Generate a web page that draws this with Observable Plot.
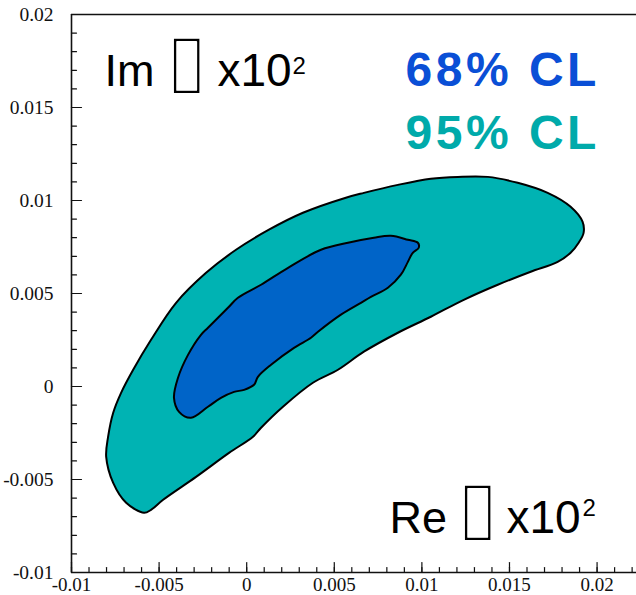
<!DOCTYPE html>
<html><head><meta charset="utf-8">
<script src="https://cdn.jsdelivr.net/npm/d3@7"></script>
<script src="https://cdn.jsdelivr.net/npm/@observablehq/plot@0.6"></script>
<style>html,body{margin:0;padding:0;background:#fff;} svg{display:block;}</style>
</head><body><div id="chart"></div>
<script>
// Contour values in units of 10^-3
const outerRe = [-5.86,-6.88,-7.62,-8.02,-7.91,-7.62,-7.17,-6.48,-5.46,-4.03,-2.32,-0.61,1.27,3.21,5.66,6.69,8.63,10.51,12.05,13.76,15.47,17.18,18.49,19.17,19.23,18.95,18.49,17.75,16.21,14.33,12.39,10.51,8.63,6.69,5.21,3.78,2.07,0.82,0.36,-1.01,-2.89,-4.77,-5.46];
const outerIm = [-6.79,-6.25,-5.18,-3.78,-2.70,-1.41,-0.34,0.90,2.51,4.50,6.11,7.35,8.43,9.34,10.15,10.41,10.84,11.17,11.27,11.27,10.95,10.41,9.66,8.86,8.26,7.73,7.19,6.70,6.17,5.47,4.66,3.75,2.89,1.87,0.90,0.20,-1.09,-2.22,-2.70,-3.57,-4.86,-6.09,-6.63];
const innerRe = [-3.18,-3.86,-4.15,-3.92,-3.35,-2.61,-2.21,-1.07,-0.50,0.82,2.36,4.24,5.78,7.26,8.23,9.20,9.77,9.82,9.48,9.20,8.80,8.06,7.09,6.52,5.38,4.07,3.67,2.70,1.39,0.64,0.42,-0.15,-0.72,-1.47,-2.21];
const innerIm = [-1.68,-1.36,-0.61,0.47,1.70,2.78,3.16,4.23,4.77,5.47,6.38,7.35,7.73,8.00,8.10,7.89,7.73,7.46,7.19,6.70,6.01,5.31,4.82,4.50,3.86,2.94,2.62,2.08,1.17,0.52,0.09,-0.18,-0.29,-0.61,-1.09];

const xTicks = [-0.01,-0.005,0,0.005,0.01,0.015,0.02];
const xTickLabels = ["-0.01","-0.005","0","0.005","0.01","0.015","0.02"];
const yTicks = [-0.01,-0.005,0,0.005,0.01,0.015,0.02];
const yTickLabels = ["-0.01","-0.005","0","0.005","0.01","0.015","0.02"];
const xMinorTicks = d3.range(-10, 23).map(d => d / 1000);
const yMinorTicks = d3.range(-10, 21).map(d => d / 1000);

const imParts = ["Im", "\u25AF", "x10", "2"];
const reParts = ["Re", "\u25AF", "x10", "2"];
const legendLabels = ["68% CL", "95% CL"];

const teal = "#00b3b3", blue = "#0064c8";
const outer = outerRe.map((d, i) => ({re: d / 1000, im: outerIm[i] / 1000}));
const inner = innerRe.map((d, i) => ({re: d / 1000, im: innerIm[i] / 1000}));

const tickShape = {draw(ctx, l) { ctx.moveTo(0, 0); ctx.lineTo(0, -l); }};
const sans = "'Liberation Sans', Arial, 'DejaVu Sans', sans-serif";
const boxFont = "'DejaVu Sans', sans-serif";
const serif = "'Liberation Serif', 'Times New Roman', serif";

// p: pixel offsets from the frame's top-left corner
function label(parts, p) {
  const common = {frameAnchor: "top-left", textAnchor: "start", lineAnchor: "bottom", fill: "#000"};
  return [
    Plot.text([parts[0]], {...common, text: d => d, dx: p.wx, dy: p.wy, fontSize: 45, fontFamily: sans}),
    Plot.text([parts[1]], {...common, text: d => d, textAnchor: "middle", dx: p.bx, dy: p.by, fontSize: 74, fontFamily: boxFont,
      stroke: "#fff", strokeWidth: 1.8, paintOrder: "normal"}),
    Plot.text([parts[2]], {...common, text: d => d, dx: p.xx, dy: p.wy, fontSize: 46, fontFamily: sans}),
    Plot.text([parts[3]], {...common, text: d => d, dx: p.sx, dy: p.sy, fontSize: 24, fontFamily: sans})
  ];
}

const chart = Plot.plot({
  width: 636, height: 595,
  marginLeft: 71, marginRight: 0, marginTop: 14, marginBottom: 23,
  x: {domain: [-0.01, 0.02225], label: null},
  y: {domain: [-0.01, 0.02], label: null},
  style: {background: "#fff"},
  marks: [
    Plot.line(outer, {x: "re", y: "im", curve: "catmull-rom-closed", fill: teal, stroke: "#000", strokeWidth: 2}),
    Plot.line(inner, {x: "re", y: "im", curve: "catmull-rom-closed", fill: blue, stroke: "#000", strokeWidth: 2}),
    Plot.ruleX([-0.01], {stroke: "#111", strokeWidth: 1.6}),
    Plot.ruleY([-0.01, 0.02], {stroke: "#111", strokeWidth: 1.6}),
    Plot.vector(xMinorTicks, {x: d => d, y: -0.01, length: 5, rotate: 0, anchor: "start", shape: tickShape, stroke: "#111", strokeWidth: 1.2}),
    Plot.vector(xTicks, {x: d => d, y: -0.01, length: 10, rotate: 0, anchor: "start", shape: tickShape, stroke: "#111", strokeWidth: 1.2}),
    Plot.vector(yMinorTicks, {x: -0.01, y: d => d, length: 5, rotate: 90, anchor: "start", shape: tickShape, stroke: "#111", strokeWidth: 1.2}),
    Plot.vector(yTicks, {x: -0.01, y: d => d, length: 10, rotate: 90, anchor: "start", shape: tickShape, stroke: "#111", strokeWidth: 1.2}),
    Plot.axisX({ticks: xTicks, tickFormat: d => xTickLabels[xTicks.indexOf(d)], tickSize: 0, tickPadding: 5, fontSize: 19, fontFamily: serif, fill: "#111", label: null}),
    Plot.axisY({ticks: yTicks, tickFormat: d => yTickLabels[yTicks.indexOf(d)], tickSize: 0, tickPadding: 18, fontSize: 19.5, fontFamily: serif, fill: "#111", label: null}),
    ...label(imParts, {wx: 33, wy: 71, bx: 115, by: 70, xx: 146, sx: 221, sy: 59}),
    ...label(reParts, {wx: 318, wy: 518, bx: 406, by: 517, xx: 435, sx: 511, sy: 501}),
    Plot.text([legendLabels[0]], {text: d => d, frameAnchor: "top-left", dx: 334, dy: 71, textAnchor: "start", lineAnchor: "bottom", fontSize: 48, fontWeight: "bold", fontFamily: sans, fill: "#0a4fd6"}),
    Plot.text([legendLabels[1]], {text: d => d, frameAnchor: "top-left", dx: 334, dy: 134, textAnchor: "start", lineAnchor: "bottom", fontSize: 48, fontWeight: "bold", fontFamily: sans, fill: "#00aaaa"})
  ]
});
d3.select(chart).selectAll("text")
  .filter(function() { return legendLabels.includes(this.textContent); })
  .style("letter-spacing", "3.5px");
document.getElementById("chart").appendChild(chart);
</script>
</body></html>
